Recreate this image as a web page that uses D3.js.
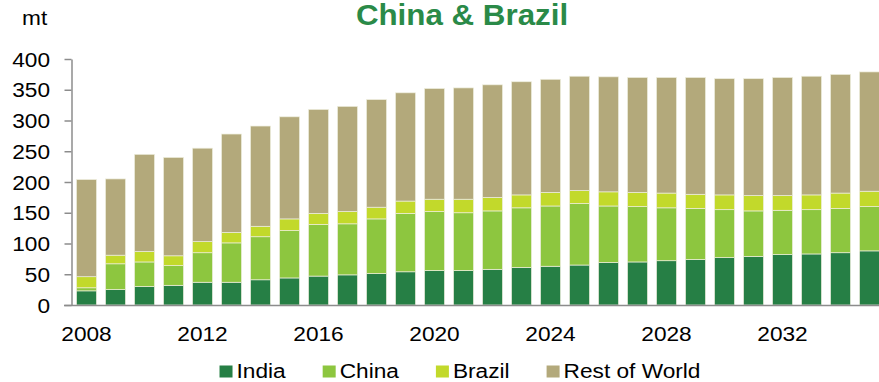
<!DOCTYPE html>
<html>
<head>
<meta charset="utf-8">
<script src="https://cdn.jsdelivr.net/npm/d3@7/dist/d3.min.js"></script>
<style>
  html, body { margin: 0; padding: 0; background: #fff; }
  svg { display: block; font-family: "Liberation Sans", Arial, sans-serif; }
</style>
</head>
<body>
<svg id="chart" width="879" height="382"></svg>
<script>
// Production by origin, million tonnes
const years = d3.range(2008, 2036);
const india = [23, 25, 30, 32, 37, 37, 41, 44, 47, 49, 51, 54, 56, 56, 58, 61, 63, 65, 69, 70, 72, 74, 77, 79, 82, 83, 85, 88];
const china = [5, 42, 40, 32, 48, 64, 70, 77, 84, 83, 89, 95, 96, 94, 95, 97, 98, 100, 92, 90, 86, 83, 78, 74, 72, 72, 72, 72];
const brazil = [18, 14, 17, 16, 18, 17, 17, 19, 18, 20, 19, 20, 20, 22, 22, 21, 22, 21, 23, 23, 24, 23, 24, 25, 24, 24, 25, 25];
const restOfWorld = [158, 124, 158, 160, 152, 160, 163, 166, 169, 171, 175, 176, 180, 181, 183, 184, 184, 186, 187, 187, 188, 190, 189, 190, 192, 193, 193, 194];
const seriesNames = ["India", "China", "Brazil", "Rest of World"];
const seriesColors = ["#267f45", "#8dc63f", "#c2d92b", "#b3a97b"];
const yTicks = [0, 50, 100, 150, 200, 250, 300, 350, 400];
const xTickYears = [2008, 2012, 2016, 2020, 2024, 2028, 2032];

const rows = years.map((y, i) => ({
  year: y,
  "India": india[i],
  "China": china[i],
  "Brazil": brazil[i],
  "Rest of World": restOfWorld[i]
}));

const svg = d3.select("#chart");
const x = d3.scaleBand().domain(years).range([72, 884]).paddingInner(0.31).paddingOuter(0.155);
const y = d3.scaleLinear().domain([0, 400]).range([305, 59]);
const color = d3.scaleOrdinal().domain(seriesNames).range(seriesColors);

const stacked = d3.stack().keys(seriesNames)(rows);

// Slightly wide lettering: place text at (px, py) and stretch it horizontally
const SX = 1.08;
function label(parent, px, py, str, size, anchor) {
  return parent.append("text")
    .attr("transform", `translate(${px},${py}) scale(${SX},1)`)
    .attr("text-anchor", anchor || "start")
    .style("font-size", size + "px")
    .attr("fill", "#000")
    .text(str);
}

// Stacked bars
svg.append("g")
  .selectAll("g")
  .data(stacked)
  .join("g")
  .attr("fill", d => color(d.key))
  .selectAll("rect")
  .data(d => d)
  .join("rect")
  .attr("x", d => x(d.data.year))
  .attr("width", x.bandwidth())
  .attr("y", d => y(d[1]))
  .attr("height", d => y(d[0]) - y(d[1]))
  .attr("stroke", "#eeeede")
  .attr("stroke-width", 0.7);

// Y axis line and ticks
const yAxis = svg.append("g")
  .attr("transform", "translate(71.5,0)")
  .call(d3.axisLeft(y).tickValues(yTicks).tickSize(7).tickFormat("").tickSizeOuter(0));
yAxis.select(".domain").attr("stroke", "#8c8c8c").attr("stroke-width", 1.5);
yAxis.selectAll(".tick line").attr("stroke", "#8c8c8c").attr("stroke-width", 1.5);

// Y tick labels
const yLabels = svg.append("g");
yTicks.forEach(v => label(yLabels, 50, y(v) + 7.5, v, 21, "end"));

// X axis baseline
svg.append("line")
  .attr("x1", 64).attr("x2", 879)
  .attr("y1", y(0) + 0.5).attr("y2", y(0) + 0.5)
  .attr("stroke", "#8c8c8c").attr("stroke-width", 1.5);

// X tick labels
const xLabels = svg.append("g");
xTickYears.forEach(v => label(xLabels, x(v) + x.bandwidth() / 2, 341, v, 21, "middle"));

// Unit label
label(svg, 22, 25, "mt", 21);

// Title
svg.append("text")
  .attr("transform", "translate(462,24.5) scale(1.08,1)")
  .attr("text-anchor", "middle")
  .style("font-size", "29px")
  .style("font-weight", "bold")
  .attr("fill", "#2a8a48")
  .text("China & Brazil");

// Legend
const legend = svg.append("g");
const items = legend.selectAll("g")
  .data(seriesNames)
  .join("g");
items.append("rect")
  .attr("width", 13).attr("height", 12)
  .attr("y", 365.5)
  .attr("fill", d => color(d));
items.each(function (d) {
  label(d3.select(this), 17, 378, d, 21);
});
let cursor = 0;
const offsets = [];
items.each(function () {
  offsets.push(cursor);
  const w = d3.select(this).select("text").node().getComputedTextLength() * SX;
  cursor += 17 + w + 37;
});
const totalWidth = cursor - 37;
const startX = 460 - totalWidth / 2;
items.attr("transform", (d, i) => `translate(${startX + offsets[i]},0)`);
</script>
</body>
</html>
